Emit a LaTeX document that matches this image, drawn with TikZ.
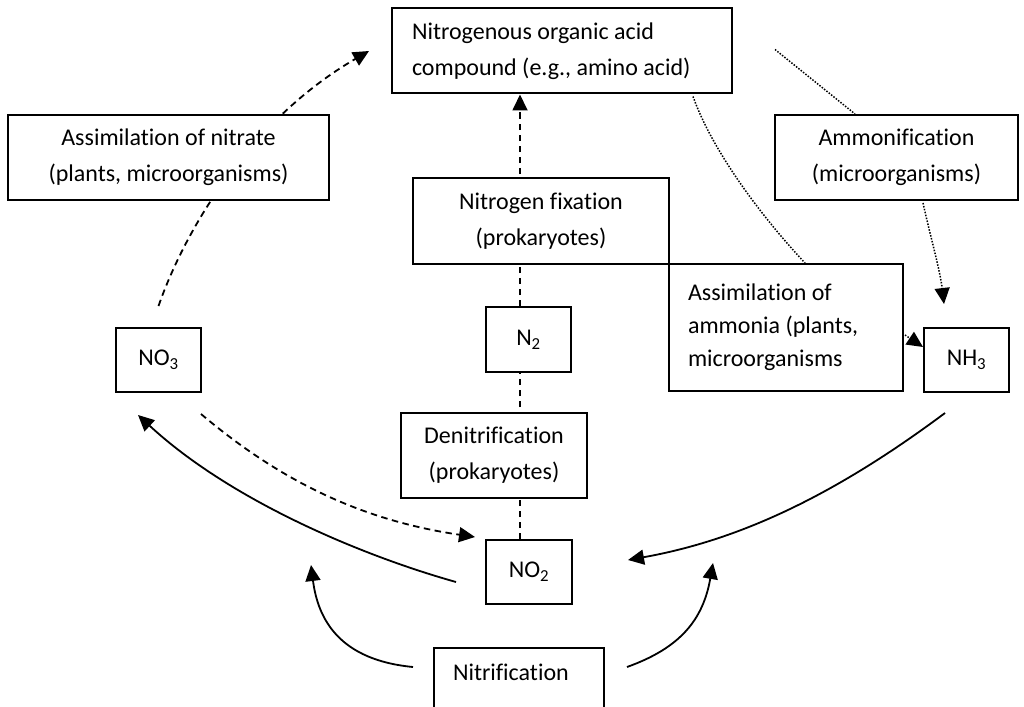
\documentclass[tikz,border=0pt]{standalone}
\usepackage{fontspec}
\setmainfont{Carlito}[Ligatures=NoCommon]
\usetikzlibrary{arrows.meta,backgrounds}
\begin{document}
\begin{tikzpicture}[x=1pt,y=-1pt,
  box/.style={draw,line width=2pt,fill=white,inner sep=0pt,font=\fontsize{24}{36}\selectfont},
  tip/.style={-{Triangle[length=16pt,width=15pt]}},
  dsh/.style={line width=1.8pt,dash pattern=on 6.5pt off 4.5pt},
  dot/.style={line width=1.5pt,dash pattern=on 1.5pt off 1.5pt},
  sol/.style={line width=1.8pt}]
\useasboundingbox (0,0) rectangle (1024,706);

\node[box,minimum width=340pt,minimum height=85pt,text width=300pt,inner xsep=20pt,align=flush left] (org) at (562,51) {Nitrogenous organic acid\\compound (e.g., amino acid)};
\node[box,minimum width=321pt,minimum height=85pt,align=center] (anit) at (168.5,157.5) {Assimilation of nitrate\\(plants, microorganisms)};
\node[box,minimum width=243pt,minimum height=85pt,align=center] (amf) at (896.5,157.5) {Ammonification\\(microorganisms)};
\node[box,minimum width=256pt,minimum height=86pt,align=center] (fix) at (541,221) {Nitrogen fixation\\(prokaryotes)};
\node[box,minimum width=234pt,minimum height=127pt,text width=196pt,inner xsep=19pt,align=flush left,font=\fontsize{24}{33}\selectfont] (aam) at (786,327.5) {Assimilation of\\ammonia (plants,\\microorganisms};
\node[box,minimum width=85pt,minimum height=65pt] (n2) at (528.5,339.5) {N\textsubscript{2}};
\node[box,minimum width=85pt,minimum height=64pt] (no3) at (158.5,360) {NO\textsubscript{3}};
\node[box,minimum width=85pt,minimum height=64pt] (nh3) at (966.5,360) {NH\textsubscript{3}};
\node[box,minimum width=186pt,minimum height=85pt,align=center] (den) at (494,455.5) {Denitrification\\(prokaryotes)};
\node[box,minimum width=86pt,minimum height=64pt] (no2) at (529,572) {NO\textsubscript{2}};
\node[box,anchor=north,minimum width=170pt,text width=132pt,inner xsep=19pt,align=flush left,inner ysep=24pt,text height=8.5pt,text depth=40pt] (ntr) at (519,647) {Nitrification};

\coordinate (amffree) at ([shift={(42pt,-42pt)}]org.north east);

\begin{scope}[on background layer]
% nitrogen fixation: N2 -> organic compound
\draw[dsh,tip] ([xshift=-8.5pt]n2.north) -- ([xshift=-8.5pt]n2.north |- org.south);
% denitrification: NO2 -- N2
\draw[dsh] ([xshift=-9pt]no2.north) -- ([xshift=-9pt]no2.north |- n2.south);
% assimilation of nitrate: NO3 -> organic compound
\draw[dsh,tip] ([yshift=21pt]no3.north) .. controls (185,230) and (250,120) .. ([xshift=-22pt]org.west);
% NO3 -> NO2
\draw[dsh,tip] ([shift={(-1pt,-21pt)}]no3.south east) .. controls (278,479) and (359,520) .. ([shift={(-10pt,2pt)}]no2.north west);
% NO2 -> NO3
\draw[sol,tip] ([shift={(-29pt,-10pt)}]no2.west) .. controls (360,555) and (230,500) .. ([shift={(-20.5pt,-22pt)}]no3.south);
% NH3 -> NO2
\draw[sol,tip] ([shift={(-21.5pt,-20pt)}]nh3.south) .. controls (835,495) and (740,540) .. ([shift={(55pt,12pt)}]no2.east);
% nitrification arrows
\draw[sol,tip] ([shift={(-20pt,-20pt)}]ntr.north west) .. controls (340,660) and (318,620) .. ([shift={(-122pt,82pt)}]ntr.north west);
\draw[sol,tip] ([shift={(22pt,-20pt)}]ntr.north east) .. controls (680,648) and (703,620) .. ([shift={(108pt,84pt)}]ntr.north east);
% assimilation of ammonia -> organic compound
\draw[dot] ([shift={(-40pt,-2pt)}]org.south east) .. controls (712,150) and (760,215) .. ([xshift=19pt]aam.north);
% ammonification
\draw[dot] (amffree) -- ([xshift=-41.5pt]amf.north);
\draw[dot,tip] ([shift={(26.5pt,-2pt)}]amf.south) .. controls (930,235) and (940,270) .. ([shift={(-22.5pt,23pt)}]nh3.north);
\draw[dot,tip] ([shift={(1pt,-7.5pt)}]aam.east) -- ([yshift=13pt]nh3.west);
\end{scope}
\end{tikzpicture}
\end{document}
